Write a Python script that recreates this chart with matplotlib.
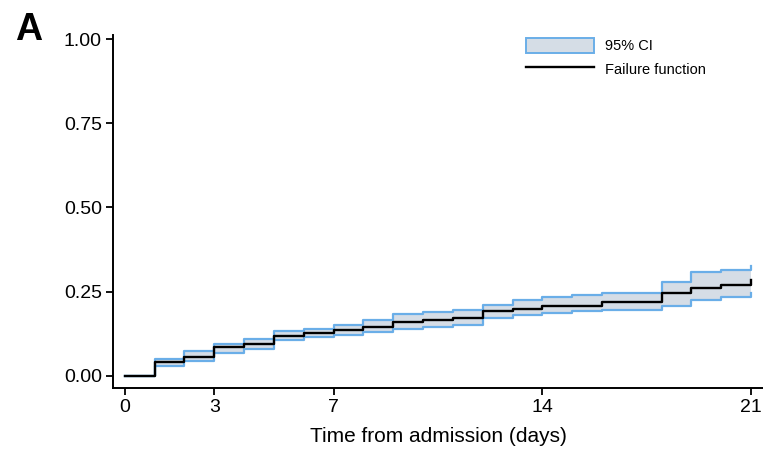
import matplotlib
matplotlib.use('Agg')
import matplotlib.pyplot as plt
from matplotlib.patches import Patch
from matplotlib.lines import Line2D

plt.rcParams['font.family'] = ['Liberation Sans', 'DejaVu Sans']

# failure function (step, post) and 95% CI
days = [0, 1, 2, 3, 4, 5, 6, 7, 8, 9, 10, 11, 12, 13, 14, 15, 16, 17, 18, 19, 20, 21]
failure = [0.0, 0.042, 0.057, 0.085, 0.095, 0.119, 0.127, 0.136, 0.146, 0.159, 0.166,
           0.173, 0.191, 0.198, 0.208, 0.208, 0.218, 0.218, 0.245, 0.260, 0.270, 0.285]
upper = [0.0, 0.050, 0.074, 0.094, 0.109, 0.132, 0.139, 0.151, 0.167, 0.183, 0.188,
         0.196, 0.211, 0.226, 0.235, 0.240, 0.245, 0.245, 0.278, 0.307, 0.313, 0.325]
lower = [0.0, 0.030, 0.043, 0.067, 0.080, 0.107, 0.115, 0.121, 0.131, 0.138, 0.144,
         0.151, 0.171, 0.181, 0.186, 0.193, 0.196, 0.196, 0.206, 0.226, 0.235, 0.245]

xticks = [0, 3, 7, 14, 21]
yticks = [0, 0.25, 0.5, 0.75, 1.0]

fig = plt.figure(figsize=(7.63, 4.51), dpi=100)
ax = fig.add_axes([0.148, 0.14, 0.852, 0.782])

fill_col = '#d5dde6'
edge_col = '#6aaee8'

ax.fill_between(days, lower, upper, step='post', color=fill_col, lw=0)
ax.step(days, upper, where='post', color=edge_col, lw=1.6)
ax.step(days, lower, where='post', color=edge_col, lw=1.6)
ax.step(days, failure, where='post', color='black', lw=1.7)

ax.set_xlim(-0.4, 21.4)
ax.set_ylim(-0.036, 1.012)
ax.set_xticks(xticks)
ax.set_yticks(yticks)
ax.set_yticklabels(['%.2f' % v for v in yticks])
ax.tick_params(direction='out', length=5, width=1.3, labelsize=14, pad=3)
for s in ['top', 'right']:
    ax.spines[s].set_visible(False)
for s in ['left', 'bottom']:
    ax.spines[s].set_linewidth(1.4)
ax.set_xlabel('Time from admission (days)', fontsize=15, labelpad=8)

handles = [Patch(facecolor=fill_col, edgecolor=edge_col, lw=1.4),
           Line2D([0], [0], color='black', lw=1.7)]
ax.legend(handles, ['95% CI', 'Failure function'], loc='upper left',
          bbox_to_anchor=(0.626, 1.008), borderaxespad=0, frameon=False,
          fontsize=10.5, handlelength=4.7, handleheight=1.15, labelspacing=0.55,
          handletextpad=0.75)

fig.text(0.02, 0.911, 'A', fontsize=27, fontweight='bold')

fig.savefig('out.png', dpi=100)
